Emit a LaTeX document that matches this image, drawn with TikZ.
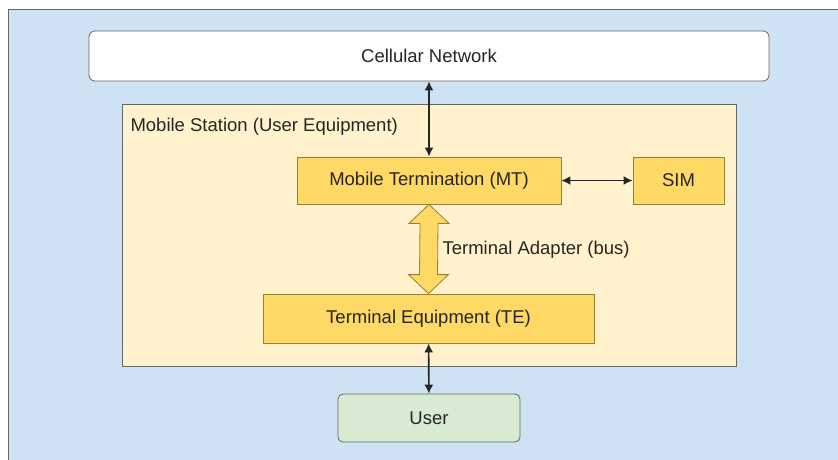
\documentclass[tikz,border=0pt]{standalone}
\usepackage{fontspec}
\setmainfont{Liberation Sans}
\usepackage{xcolor}
\definecolor{msblue}{RGB}{207,226,243}
\definecolor{msframe}{RGB}{102,102,102}
\definecolor{mscream}{RGB}{255,242,204}
\definecolor{msyellow}{RGB}{255,217,102}
\definecolor{msbrown}{RGB}{127,96,0}
\definecolor{msgreen}{RGB}{217,234,211}
\definecolor{mstext}{RGB}{38,38,38}
\usetikzlibrary{arrows.meta, positioning, calc}

\begin{document}
\begin{tikzpicture}[x=1pt, y=-1pt,
  font=\fontsize{18.5}{21}\selectfont, text=mstext,
  unit/.style={draw=msbrown!80, fill=msyellow, line width=0.8pt, inner sep=0pt},
  link/.style={{Latex[length=9pt,width=9pt]}-{Latex[length=9pt,width=9pt]}, line width=1.6pt, black!85}]
  \clip (0,0) rectangle (838,459);
  \useasboundingbox (0,0) rectangle (838,459);
  % Background panel
  \fill[white] (0,0) rectangle (838,459);
  \draw[fill=msblue, draw=msframe, line width=1pt] (8,9) rectangle (860,480);

  % --- Network on top ---
  \node[draw=msframe, fill=white, rounded corners=6pt, line width=0.8pt,
        minimum width=680pt, minimum height=50pt] (net) at (429,56) {Cellular Network};

  % --- Mobile Station ---
  \node[draw=msframe, fill=mscream, line width=0.8pt, inner sep=0pt,
        minimum width=614pt, minimum height=262pt] (ms) at (429,235) {};
  \node[anchor=west] (mslabel) at (127,127) {Mobile Station (User Equipment)};

  \node[unit, minimum width=264pt, minimum height=47pt] (mt) at (429,180.5) {Mobile Termination (MT)};
  \node[unit, minimum width=91pt, minimum height=47pt] (sim) at (678.5,180.5) {SIM};
  \node[unit, minimum width=331pt, minimum height=49pt] (te) at (428.5,318.5) {Terminal Equipment (TE)};

  % Bus between MT and TE
  \draw[draw=msbrown!80, fill=msyellow, line width=0.8pt]
    (mt.south) -- ++(20,19) -- ++(-11,0) -- ($(te.north)+(9,-19)$)
    -- ++(11,0) -- (te.north) -- ++(-20,-19) -- ++(11,0)
    -- ($(mt.south)+(-9,19)$) -- ++(-11,0) -- cycle;
  \node[anchor=west] (bus) at (439,250) {Terminal Adapter (bus)};

  % --- User ---
  \node[draw=msframe, fill=msgreen, rounded corners=5pt, line width=0.8pt,
        minimum width=182pt, minimum height=48pt] (user) at (429,418) {User};

  % Connectors
  \draw[link] (net) -- (mt);
  \draw[link] (mt) -- (sim);
  \draw[link] (te) -- (user);
\end{tikzpicture}
\end{document}
